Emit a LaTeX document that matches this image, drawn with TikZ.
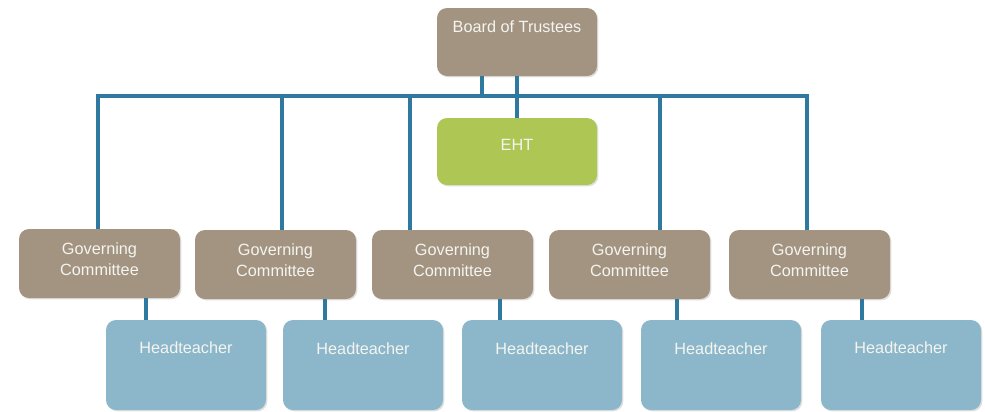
\documentclass[tikz,border=0pt]{standalone}
\usepackage{fontspec}
\setmainfont{Liberation Sans}
\usetikzlibrary{shadows}
\definecolor{taupe}{HTML}{A39481}
\definecolor{leaf}{HTML}{ADC654}
\definecolor{sky}{HTML}{8CB7CB}
\definecolor{wire}{HTML}{2F789F}
\definecolor{txtc}{HTML}{F4F4F0}
\tikzset{
  box/.style={draw=none, rounded corners=7.5pt, minimum width=120pt, minimum height=51pt, inner sep=0pt,
    drop shadow={opacity=0.25, shadow xshift=1pt, shadow yshift=-1pt}},
  gcbox/.style={box, fill=taupe, minimum width=120.75pt, minimum height=51.75pt},
  htbox/.style={box, fill=sky, minimum width=120pt, minimum height=67.5pt},
  lbl/.style={text=txtc, font=\fontsize{12.2pt}{15.5pt}\selectfont, align=center, inner sep=0pt},
  wireline/.style={draw=wire, line width=3pt}
}
\begin{document}
\begin{tikzpicture}[x=0.75pt, y=-0.75pt]
\useasboundingbox (0,0) rectangle (985,411);
% top level
\node[box, fill=taupe, minimum height=51pt] (bt) at (517,42) {};
\node[lbl] (btt) at (517,27) {Board of Trustees};
\node[box, fill=leaf, minimum height=50.25pt] (eht) at (517,151.5) {};
\node[lbl] (ehtt) at (517,145) {EHT};
% governing committees
\node[gcbox] (gc1) at (99.5,263.5) {};
\node[gcbox] (gc2) at (275.5,264.5) {};
\node[gcbox] (gc3) at (452.5,264.5) {};
\node[gcbox] (gc4) at (629.5,264.5) {};
\node[gcbox] (gc5) at (809.5,264.5) {};
\node[lbl] (gc1t) at (99.5,259.5) {Governing\\Committee};
\node[lbl] (gc2t) at (275.5,260.5) {Governing\\Committee};
\node[lbl] (gc3t) at (452.5,260.5) {Governing\\Committee};
\node[lbl] (gc4t) at (629.5,260.5) {Governing\\Committee};
\node[lbl] (gc5t) at (809.5,260.5) {Governing\\Committee};
% headteachers
\node[htbox] (ht1) at (186,365) {};
\node[htbox] (ht2) at (363,365) {};
\node[htbox] (ht3) at (542,365) {};
\node[htbox] (ht4) at (721,365) {};
\node[htbox] (ht5) at (901,365) {};
\node[lbl] (ht1t) at (186,348) {Headteacher};
\node[lbl] (ht2t) at (363,349) {Headteacher};
\node[lbl] (ht3t) at (542,349) {Headteacher};
\node[lbl] (ht4t) at (721,349) {Headteacher};
\node[lbl] (ht5t) at (901,348) {Headteacher};
% bus coordinates
\coordinate (b1) at (98,96);
\coordinate (b2) at (282,96);
\coordinate (b3) at (410,96);
\coordinate (bt1) at (482,96);
\coordinate (b4) at (660,96);
\coordinate (b5) at (807,96);
\coordinate (d1) at (146,0);
\coordinate (d2) at (325,0);
\coordinate (d3) at (500,0);
\coordinate (d4) at (677,0);
\coordinate (d5) at (862,0);
% connectors
\draw[wireline, line join=miter] (b1 |- gc1.north) -- (b1) -- (b5) -- (b5 |- gc5.north);
\draw[wireline] (bt1 |- bt.south) -- (bt1);
\draw[wireline] (bt.south) -- (eht.north);
\draw[wireline] (b2) -- (b2 |- gc2.north);
\draw[wireline] (b3) -- (b3 |- gc3.north);
\draw[wireline] (b4) -- (b4 |- gc4.north);
\draw[wireline] (d1 |- gc1.south) -- (d1 |- ht1.north);
\draw[wireline] (d2 |- gc2.south) -- (d2 |- ht2.north);
\draw[wireline] (d3 |- gc3.south) -- (d3 |- ht3.north);
\draw[wireline] (d4 |- gc4.south) -- (d4 |- ht4.north);
\draw[wireline] (d5 |- gc5.south) -- (d5 |- ht5.north);
\end{tikzpicture}
\end{document}
